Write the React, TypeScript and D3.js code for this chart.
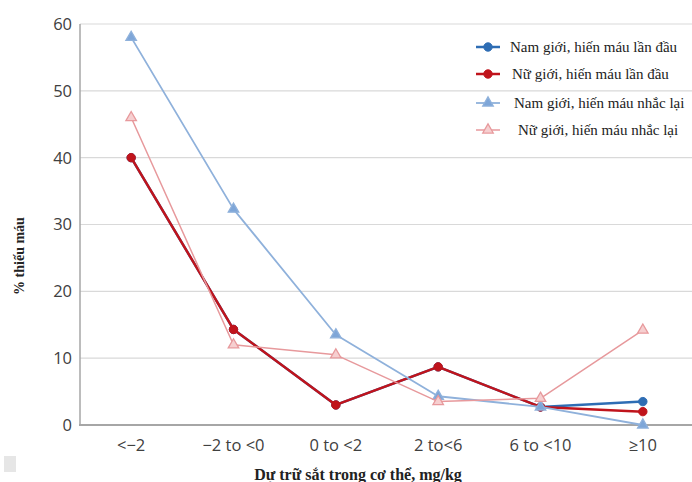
import React, { useEffect, useRef } from "react";
import * as d3 from "d3";

// Iron stores categories (mg/kg) and anaemia prevalence (%) per donor group
const categories = ["<\u22122", "\u22122 to <0", "0 to <2", "2 to<6", "6 to <10", "\u226510"];
const yTicks = [0, 10, 20, 30, 40, 50, 60];

const maleFirst = [40, 14.3, 3, 8.7, 2.7, 3.5];
const femaleFirst = [40, 14.3, 3, 8.7, 2.7, 2];
const maleRepeat = [58, 32.3, 13.5, 4.3, 2.7, 0];
const femaleRepeat = [46, 12, 10.5, 3.5, 4, 14.2];

const seriesNames = [
  "Nam giới, hiến máu lần đầu",
  "Nữ giới, hiến máu lần đầu",
  "Nam giới, hiến máu nhắc lại",
  "Nữ giới, hiến máu nhắc lại",
];

const W = 692;
const H = 482;

type Series = {
  name: string;
  values: number[];
  color: string;
  fill: string;
  width: number;
  marker: "circle" | "triangle";
};

export default function App() {
  const ref = useRef<SVGSVGElement>(null);

  useEffect(() => {
    const svg = d3.select(ref.current);
    svg.selectAll("*").remove();

    const x = d3.scaleBand<string>().domain(categories).range([80, 694]).padding(0);
    const y = d3.scaleLinear().domain([0, 60]).range([425, 24]);
    const cx = (c: string) => (x(c) as number) + x.bandwidth() / 2;

    const tickFont = "'Open Sans', 'Liberation Sans', sans-serif";
    const serif = "'Liberation Serif', 'DejaVu Serif', serif";

    // faint square at lower left
    svg.append("rect").attr("x", 4).attr("y", 456).attr("width", 12).attr("height", 16).attr("fill", "#e6e6e6");

    // horizontal gridlines
    svg
      .append("g")
      .selectAll("line")
      .data(yTicks.filter((t) => t > 0))
      .join("line")
      .attr("x1", 80)
      .attr("x2", W)
      .attr("y1", (d) => y(d))
      .attr("y2", (d) => y(d))
      .attr("stroke", "#d9d9d9")
      .attr("stroke-width", 1.2);

    // axes lines
    svg.append("line").attr("x1", 80).attr("x2", 80).attr("y1", y(60)).attr("y2", y(0) + 1)
      .attr("stroke", "#a6a6a6").attr("stroke-width", 1.5);
    svg.append("line").attr("x1", 79).attr("x2", W).attr("y1", y(0)).attr("y2", y(0))
      .attr("stroke", "#a6a6a6").attr("stroke-width", 2);

    // y tick labels
    svg
      .append("g")
      .selectAll("text")
      .data(yTicks)
      .join("text")
      .attr("x", 72)
      .attr("y", (d) => y(d))
      .attr("dy", "0.36em")
      .attr("text-anchor", "end")
      .attr("font-family", tickFont)
      .attr("font-size", 16.5)
      .attr("fill", "#404040")
      .text((d) => d);

    // x tick labels
    svg
      .append("g")
      .selectAll("text")
      .data(categories)
      .join("text")
      .attr("x", (d) => cx(d))
      .attr("y", 445)
      .attr("dy", "0.36em")
      .attr("text-anchor", "middle")
      .attr("font-family", tickFont)
      .attr("font-size", 16.5)
      .attr("fill", "#404040")
      .text((d) => d);

    // axis titles
    svg
      .append("text")
      .attr("x", 358)
      .attr("y", 474)
      .attr("dy", "0.35em")
      .attr("text-anchor", "middle")
      .attr("font-family", serif)
      .attr("font-weight", "bold")
      .attr("font-size", 16)
      .attr("fill", "#222")
      .text("Dự trữ sắt trong cơ thể, mg/kg");

    svg
      .append("text")
      .attr("transform", "translate(19,256) rotate(-90)")
      .attr("dy", "0.35em")
      .attr("text-anchor", "middle")
      .attr("font-family", serif)
      .attr("font-weight", "bold")
      .attr("font-size", 14)
      .attr("fill", "#222")
      .text("% thiếu máu");

    const series: Series[] = [
      { name: seriesNames[0], values: maleFirst, color: "#2e6db4", fill: "#2e6db4", width: 2.5, marker: "circle" },
      { name: seriesNames[1], values: femaleFirst, color: "#c0141c", fill: "#c0141c", width: 2.5, marker: "circle" },
      { name: seriesNames[2], values: maleRepeat, color: "#8fb1db", fill: "#7ea6d8", width: 1.8, marker: "triangle" },
      { name: seriesNames[3], values: femaleRepeat, color: "#e7999c", fill: "#f6cfd0", width: 1.5, marker: "triangle" },
    ];

    const line = d3
      .line<number>()
      .x((_, i) => cx(categories[i]))
      .y((d) => y(d));

    const tri = d3.symbol().type(d3.symbolTriangle).size(48);

    const drawMarker = (g: d3.Selection<SVGGElement, unknown, null, undefined>, s: Series, px: number, py: number) => {
      if (s.marker === "circle") {
        g.append("circle").attr("cx", px).attr("cy", py).attr("r", 4.2).attr("fill", s.fill).attr("stroke", s.color);
      } else {
        g.append("path")
          .attr("d", tri() as string)
          .attr("transform", `translate(${px},${py})`)
          .attr("fill", s.fill)
          .attr("stroke", s.color)
          .attr("stroke-width", 1.3);
      }
    };

    series.forEach((s) => {
      const g = svg.append("g");
      g.append("path")
        .attr("d", line(s.values) as string)
        .attr("fill", "none")
        .attr("stroke", s.color)
        .attr("stroke-width", s.width)
        .attr("stroke-linejoin", "round");
      s.values.forEach((v, i) => drawMarker(g, s, cx(categories[i]), y(v)));
    });

    // legend
    const legendY = [47, 74, 103, 130];
    const legendTextX = [510, 512, 514, 518];
    series.forEach((s, i) => {
      const g = svg.append("g");
      g.append("line")
        .attr("x1", 476)
        .attr("x2", 500)
        .attr("y1", legendY[i])
        .attr("y2", legendY[i])
        .attr("stroke", s.color)
        .attr("stroke-width", s.width);
      drawMarker(g, s, 488, legendY[i]);
      g.append("text")
        .attr("x", legendTextX[i])
        .attr("y", legendY[i])
        .attr("dy", "0.33em")
        .attr("font-family", serif)
        .attr("font-size", 15)
        .attr("fill", "#222")
        .text(s.name);
    });
  }, []);

  return (
    <svg
      ref={ref}
      width={W}
      height={H}
      style={{ position: "absolute", left: 0, top: 0, background: "#fff" }}
    />
  );
}
